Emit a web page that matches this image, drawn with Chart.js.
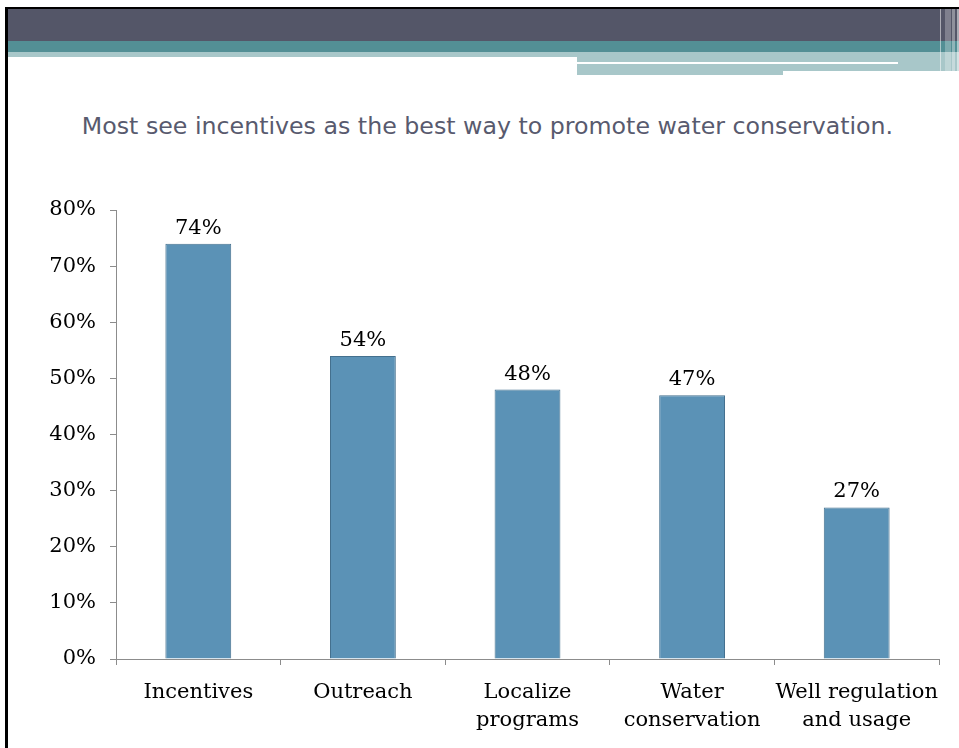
<!DOCTYPE html>
<html>
<head>
<meta charset="utf-8">
<script src="https://cdn.jsdelivr.net/npm/chart.js@4"></script>
<style>
  html, body { margin: 0; padding: 0; background: #fff; }
  #slide { position: relative; width: 959px; height: 748px; overflow: hidden; background: #fff; }
  .deco { position: absolute; }
  #title {
    position: absolute; left: 0; width: 975px; top: 112px;
    text-align: center; font-family: 'DejaVu Sans', sans-serif; font-size: 23.7px;
    color: #585a6e;
  }
  #chart { position: absolute; left: 0; top: 0; }
</style>
</head>
<body>
<div id="slide">
  <!-- slide frame and header bands -->
  <div class="deco" style="left:5px;top:7px;width:960px;height:2px;background:#000"></div>
  <div class="deco" style="left:5px;top:7px;width:3px;height:741px;background:#000"></div>
  <div class="deco" style="left:8px;top:9px;width:951px;height:32px;background:#545668"></div>
  <div class="deco" style="left:8px;top:41px;width:951px;height:11px;background:#538f95"></div>
  <div class="deco" style="left:8px;top:52px;width:569px;height:5px;background:#a8c7c9"></div>
  <div class="deco" style="left:577px;top:52px;width:382px;height:19px;background:#a8c7c9"></div>
  <div class="deco" style="left:577px;top:71px;width:206px;height:4px;background:#a8c7c9"></div>
  <div class="deco" style="left:577px;top:62px;width:321px;height:2px;background:#fff"></div>
  <div class="deco" style="left:940px;top:9px;width:1px;height:62px;background:rgba(255,255,255,0.5)"></div>
  <div class="deco" style="left:945px;top:9px;width:6px;height:66px;background:rgba(255,255,255,0.25)"></div>
  <div class="deco" style="left:952px;top:9px;width:3px;height:66px;background:rgba(255,255,255,0.35)"></div>
  <div class="deco" style="left:957px;top:9px;width:2px;height:66px;background:rgba(255,255,255,0.5)"></div>

  <div id="title">Most see incentives as the best way to promote water conservation.</div>
  <canvas id="chart" width="959" height="748"></canvas>
</div>
<script>
// Chart data
const categories = [
    'Incentives',
    'Outreach',
    ['Localize', 'programs'],
    ['Water', 'conservation'],
    ['Well regulation', 'and usage']
];
const percentValues = [74, 54, 48, 47, 27];
const yTicks = [0, 10, 20, 30, 40, 50, 60, 70, 80];

const serifFont = "'DejaVu Serif', 'Liberation Serif', serif";
const axisColor = '#8c8c8c';

// Draw value labels above each bar
const valueLabels = {
    id: 'valueLabels',
    afterDatasetsDraw(chart) {
        const ctx = chart.ctx;
        const meta = chart.getDatasetMeta(0);
        ctx.save();
        ctx.font = '21px ' + serifFont;
        ctx.fillStyle = '#000';
        ctx.textAlign = 'center';
        ctx.textBaseline = 'bottom';
        meta.data.forEach((bar, i) => {
            ctx.fillText(percentValues[i] + '%', bar.x, bar.y - 5);
        });
        ctx.restore();
    }
};

const ctx = document.getElementById('chart').getContext('2d');
new Chart(ctx, {
    type: 'bar',
    data: {
        labels: categories,
        datasets: [{
            data: percentValues,
            backgroundColor: '#5b92b6',
            borderColor: '#44708e',
            borderWidth: 1,
            categoryPercentage: 1,
            barPercentage: 0.4
        }]
    },
    options: {
        responsive: false,
        animation: false,
        layout: { padding: { left: 0, top: 210, right: 20, bottom: 0 } },
        plugins: {
            legend: { display: false },
            tooltip: { enabled: false }
        },
        scales: {
            x: {
                grid: {
                    offset: true,
                    drawOnChartArea: false,
                    drawTicks: true,
                    tickLength: 6,
                    color: axisColor
                },
                border: { color: axisColor, width: 1 },
                ticks: {
                    color: '#000',
                    padding: 14,
                    maxRotation: 0,
                    autoSkip: false,
                    font: { family: serifFont, size: 21, lineHeight: 1.33 }
                },
                afterFit: (scale) => { scale.height = 748 - 659; }
            },
            y: {
                min: 0,
                max: 80,
                afterBuildTicks: (scale) => {
                    scale.ticks = yTicks.map(v => ({ value: v }));
                },
                grid: {
                    drawOnChartArea: false,
                    drawTicks: true,
                    tickLength: 6,
                    color: axisColor
                },
                border: { color: axisColor, width: 1 },
                ticks: {
                    color: '#000',
                    padding: 14,
                    font: { family: serifFont, size: 21 },
                    callback: (val) => val + '%'
                },
                afterFit: (scale) => { scale.width = 116; }
            }
        }
    },
    plugins: [valueLabels]
});
</script>
</body>
</html>
